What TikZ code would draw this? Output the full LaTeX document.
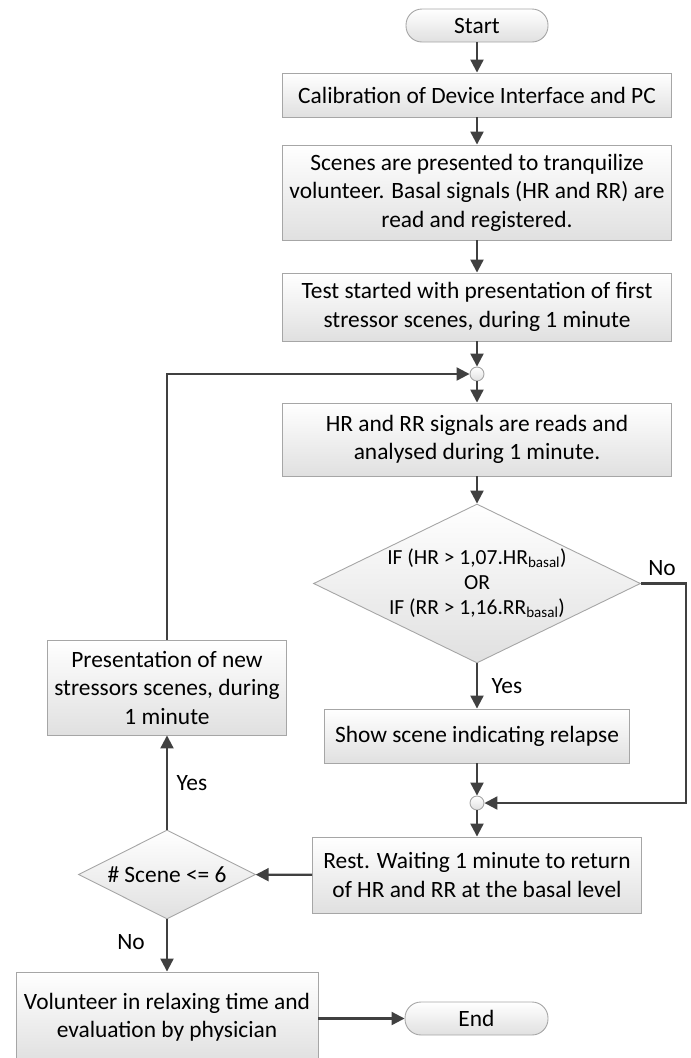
\documentclass[tikz,border=0pt]{standalone}
\usepackage{fontspec}
\setmainfont{Carlito}
\usetikzlibrary{arrows.meta,shapes.geometric,calc}
\definecolor{linec}{HTML}{404040}
\definecolor{borderc}{HTML}{A6A6A6}
\definecolor{fillbot}{HTML}{E0E0E0}
\begin{document}
\begin{tikzpicture}[x=1pt,y=-1pt,
  font=\fontsize{23.4}{28.5}\selectfont,
  box/.style={draw=borderc, line width=0.9pt, top color=white, bottom color=fillbot, inner sep=0pt, align=center},
  term/.style={box, rounded corners=16pt},
  dia/.style={draw=borderc, line width=0.9pt, top color=white, bottom color=fillbot, diamond, inner sep=0pt},
  junc/.style={circle, draw=borderc, line width=0.9pt, top color=white, bottom color=fillbot, minimum size=14pt, inner sep=0pt},
  arr/.style={draw=linec, line width=2.2pt, -{Triangle[length=13pt,width=13pt]}},
  lbl/.style={inner sep=0pt}
]
\useasboundingbox (0,0) rectangle (691,1058);

\node[term, minimum width=142pt, minimum height=33pt] (start) at (477,25.5) {Start};
\node[box, minimum width=389pt, minimum height=44pt] (calib) at (477,95) {Calibration of Device Interface and PC};
\node[box, minimum width=389pt, minimum height=95pt] (scenes) at (477,192.5) {Scenes are presented  to tranquilize\\volunteer. Basal signals (HR and RR) are\\read and registered.};
\node[box, minimum width=389pt, minimum height=68pt] (test) at (477,307) {Test started with presentation of first\\stressor scenes, during 1 minute};
\node[junc] (c1) at (477,374) {};
\node[box, minimum width=389pt, minimum height=73pt] (hr) at (477,439.5) {HR and RR signals are reads and\\analysed during 1 minute.};
\node[dia, minimum width=327pt, minimum height=159pt] (d1) at (477,583.5) {};
\node[align=center, inner sep=0pt, font=\fontsize{21.5}{25}\selectfont] (d1t) at (d1) {IF (HR > 1,07.HR\textsubscript{basal})\\OR\\IF (RR > 1,16.RR\textsubscript{basal})};
\node[box, minimum width=305pt, minimum height=54pt] (show) at (477,736) {Show scene indicating relapse};
\node[junc] (c2) at (477,803) {};
\node[box, minimum width=329pt, minimum height=76pt] (rest) at (477,875) {Rest. Waiting 1 minute to return\\of HR and RR at the basal level};
\node[dia, minimum width=177pt, minimum height=89pt] (d2) at (167,874.5) {};
\node[inner sep=0pt] (d2t) at (d2) {\# Scene <= 6};
\node[box, minimum width=239pt, minimum height=95pt] (pres) at (167,687.5) {Presentation of new\\stressors scenes, during\\1 minute};
\node[box, minimum width=302pt, minimum height=90pt] (vol) at (167,1017) {Volunteer in relaxing time and\\evaluation by physician};
\node[term, minimum width=143pt, minimum height=33pt] (end) at (476.5,1018.5) {End};

\coordinate (rr) at (686,0);

\draw[arr] (start) -- (calib);
\draw[arr] (calib) -- (scenes);
\draw[arr] (scenes) -- (test);
\draw[arr] (test) -- (c1);
\draw[arr] (c1) -- (hr);
\draw[arr] (hr) -- (d1);
\draw[arr] (d1) -- (show);
\draw[arr] (show) -- (c2);
\draw[arr] (c2) -- (rest);
\draw[arr] (rest) -- (d2);
\draw[arr] (d2) -- (pres);
\draw[arr] (d2) -- (vol);
\draw[arr] (pres.north) -- (pres.north |- c1) -- (c1);
\draw[arr] (d1.east) -- (d1.east -| rr) -- (c2 -| rr) -- (c2);
\draw[arr] (vol.east |- end) -- (end);

\node[lbl] (lno1) at (662,568) {No};
\node[lbl] (lyes1) at (507,686) {Yes};
\node[lbl] (lyes2) at (192,783) {Yes};
\node[lbl] (lno2) at (131,942) {No};
\end{tikzpicture}
\end{document}
